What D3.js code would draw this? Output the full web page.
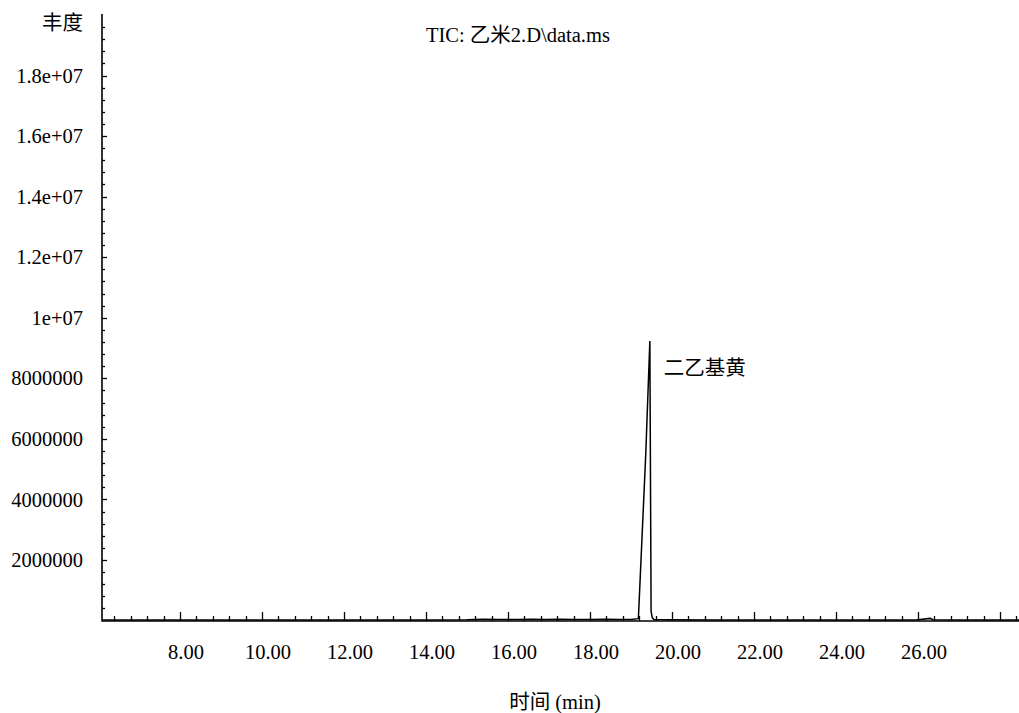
<!DOCTYPE html>
<html><head><meta charset="utf-8">
<script src="https://cdn.jsdelivr.net/npm/d3@7"></script>
<style>
body{margin:0;background:#fff;}
text{font-family:"Liberation Serif","Times New Roman","Noto Sans CJK SC",serif;fill:#000;}
</style></head>
<body><svg id="c" width="1019" height="713"></svg>
<script>
// ---- data ----
const times = [6.10, 7.00, 8.00, 9.00, 10.00, 11.00, 12.00, 13.00, 14.00, 15.00, 15.40, 15.80, 16.20, 16.60, 16.90, 17.30, 17.60, 18.00, 18.40, 18.70, 19.00, 19.18, 19.36, 19.46, 19.49, 19.52, 19.56, 20.00, 21.00, 22.00, 23.00, 24.00, 25.00, 25.95, 26.30, 26.36, 27.00, 28.00, 28.50];
const abundance = [20000, 20000, 20000, 20000, 20000, 20000, 20000, 20000, 20000, 25000, 40000, 30000, 35000, 45000, 30000, 40000, 30000, 30000, 45000, 35000, 30000, 60000, 5500000, 9230000, 300000, 90000, 35000, 25000, 20000, 20000, 20000, 20000, 20000, 20000, 70000, 25000, 20000, 20000, 20000];
const xMajorTicks = [8, 10, 12, 14, 16, 18, 20, 22, 24, 26, 28];
const xTickLabels = ["8.00", "10.00", "12.00", "14.00", "16.00", "18.00", "20.00", "22.00", "24.00", "26.00"];
const yMajorTicks = [2000000, 4000000, 6000000, 8000000, 10000000, 12000000, 14000000, 16000000, 18000000];
const yTickLabels = ["2000000", "4000000", "6000000", "8000000", "1e+07", "1.2e+07", "1.4e+07", "1.6e+07", "1.8e+07"];
const titleText = "TIC: 乙米2.D\\data.ms";
const yTitle = "丰度";
const xTitle = "时间 (min)";
const peakLabel = "二乙基黄";
const peakTime = 19.46, peakValue = 9230000;

(function () {
// ---- layout ----
const svg = d3.select("#c");
const pl = 102, pr = 1019, pt = 14, pb = 621;
const x = d3.scaleLinear().domain([8, 26]).range([180, 918]);
const y = d3.scaleLinear().domain([0, 18000000]).range([pb - 0.5, 75.5]);
const xMin = x.invert(pl), xMax = x.invert(pr);
const fs = 20.5;

const xMinor = d3.range(Math.ceil(xMin / 0.4), Math.floor(xMax / 0.4) + 1).map(k => +(k * 0.4).toFixed(2)).filter(v => Math.abs(v / 2 - Math.round(v / 2)) > 1e-6);
const yMinor = d3.range(1, 51).map(k => k * 400000).filter(v => v % 2000000 !== 0);

const g = svg.append("g");
g.selectAll(".xmin").data(xMinor).join("line")
  .attr("x1", d => Math.round(x(d)) + 0.5).attr("x2", d => Math.round(x(d)) + 0.5)
  .attr("y1", pb).attr("y2", pb - 5).attr("stroke", "#000").attr("stroke-width", 1.3);
g.selectAll(".xmaj").data(xMajorTicks).join("line")
  .attr("x1", d => Math.round(x(d)) + 0.5).attr("x2", d => Math.round(x(d)) + 0.5)
  .attr("y1", pb).attr("y2", pb - 9).attr("stroke", "#000").attr("stroke-width", 1.3);
g.selectAll(".ymin").data(yMinor).join("line")
  .attr("x1", pl).attr("x2", pl + 3)
  .attr("y1", d => Math.round(y(d)) + 0.5).attr("y2", d => Math.round(y(d)) + 0.5).attr("stroke", "#000").attr("stroke-width", 1.3);
g.selectAll(".ymaj").data(yMajorTicks).join("line")
  .attr("x1", pl).attr("x2", pl + 5)
  .attr("y1", d => Math.round(y(d)) + 0.5).attr("y2", d => Math.round(y(d)) + 0.5).attr("stroke", "#000").attr("stroke-width", 1.3);

g.append("line").attr("x1", pl).attr("x2", pl).attr("y1", pt).attr("y2", pb + 0.5).attr("stroke", "#000").attr("stroke-width", 1.6);
g.append("line").attr("x1", pl).attr("x2", pr).attr("y1", pb).attr("y2", pb).attr("stroke", "#000").attr("stroke-width", 1.6);

g.selectAll(".xl").data(xTickLabels).join("text")
  .attr("x", (d, i) => x(xMajorTicks[i]) + 6).attr("y", 652).attr("dy", "0.35em")
  .attr("text-anchor", "middle").attr("font-size", fs).text(d => d);
g.selectAll(".yl").data(yTickLabels).join("text")
  .attr("x", 83).attr("y", (d, i) => y(yMajorTicks[i])).attr("dy", "0.35em")
  .attr("text-anchor", "end").attr("font-size", fs).text(d => d);

svg.append("text").attr("x", 83).attr("y", 23).attr("dy", "0.35em").attr("text-anchor", "end").attr("font-size", fs).text(yTitle);
svg.append("text").attr("x", 555).attr("y", 702).attr("dy", "0.35em").attr("text-anchor", "middle").attr("font-size", fs).text(xTitle);
svg.append("text").attr("x", 426).attr("y", 35).attr("dy", "0.35em").attr("text-anchor", "start").attr("font-size", fs).text(titleText);

const line = d3.line().x((d, i) => x(times[i])).y(d => y(d));
svg.append("defs").append("clipPath").attr("id", "clip").append("rect").attr("x", pl).attr("y", 0).attr("width", pr - pl).attr("height", pb);
svg.append("path").datum(abundance).attr("d", line).attr("fill", "none").attr("stroke", "#000").attr("stroke-width", 1.5).attr("clip-path", "url(#clip)");

svg.append("text").attr("x", x(peakTime) + 14).attr("y", y(peakValue) + 27).attr("dy", "0.35em").attr("font-size", fs).text(peakLabel);
})();
</script></body></html>
